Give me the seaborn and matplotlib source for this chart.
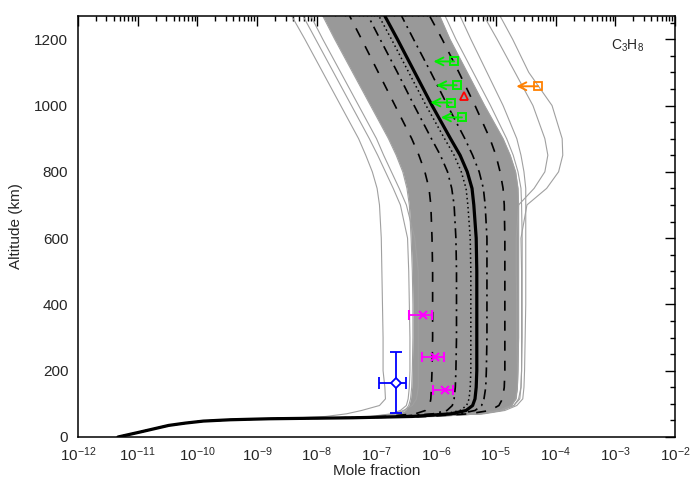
import numpy as np
import seaborn as sns
import matplotlib.pyplot as plt
from matplotlib.ticker import MultipleLocator, LogLocator, NullFormatter

# altitude grid (km) shared by the profiles
alt_km = [0, 15, 35, 42, 48, 52, 55, 58, 62, 70, 80, 95, 115, 150, 200, 300, 400,
          500, 600, 700, 750, 800, 850, 900, 1000, 1100, 1200, 1270]

# profiles as log10(mole fraction)
low = [-11.33, -10.96, -10.48, -10.20, -9.90, -9.45, -8.80]
nominal = low + [-7.40, -6.40, -5.75, -5.50, -5.39, -5.35, -5.33, -5.32, -5.32, -5.32, -5.32, -5.33,
                 -5.37, -5.40, -5.48, -5.60, -5.76, -6.07, -6.36, -6.65, -6.86]
mean_prof = low + [-7.45, -6.50, -5.85, -5.60, -5.49, -5.45, -5.43, -5.42, -5.42, -5.42, -5.42, -5.43,
                   -5.47, -5.50, -5.58, -5.70, -5.86, -6.17, -6.46, -6.75, -6.96]
sig1_lo = low + [-7.50, -6.65, -6.05, -5.82, -5.73, -5.70, -5.68, -5.67, -5.66, -5.66, -5.66, -5.67,
                 -5.70, -5.74, -5.81, -5.93, -6.08, -6.37, -6.65, -6.94, -7.14]
sig1_hi = low + [-7.35, -6.30, -5.62, -5.35, -5.24, -5.20, -5.17, -5.16, -5.15, -5.15, -5.15, -5.15,
                 -5.18, -5.21, -5.28, -5.39, -5.52, -5.81, -6.09, -6.38, -6.58]
sig2_lo = low + [-7.55, -6.85, -6.35, -6.18, -6.11, -6.09, -6.08, -6.07, -6.06, -6.06, -6.06, -6.07,
                 -6.09, -6.12, -6.19, -6.29, -6.41, -6.69, -6.97, -7.25, -7.45]
sig2_hi = low + [-7.30, -6.15, -5.45, -5.10, -4.95, -4.89, -4.86, -4.85, -4.85, -4.85, -4.85, -4.85,
                 -4.86, -4.88, -4.93, -5.00, -5.10, -5.35, -5.62, -5.90, -6.11]

# envelope of the Monte Carlo runs
band_lo = low + [-7.65, -7.00, -6.65, -6.52, -6.46, -6.43, -6.41, -6.40, -6.39, -6.39, -6.40, -6.42,
                 -6.45, -6.49, -6.56, -6.67, -6.80, -7.10, -7.40, -7.70, -7.90]
band_hi = low + [-7.20, -6.00, -5.25, -4.92, -4.74, -4.67, -4.64, -4.63, -4.62, -4.62, -4.62, -4.62,
                 -4.62, -4.63, -4.67, -4.76, -4.88, -5.19, -5.48, -5.77, -5.94]

# a few individual runs outside the dense band
run_l1 = [-11.33, -10.96, -10.48, -10.20, -9.90, -9.45, -8.85,
          -8.30, -7.85, -7.50, -7.25, -6.95, -6.85, -6.86, -6.89, -6.89, -6.90, -6.91, -6.92,
          -6.95, -6.99, -7.07, -7.18, -7.30, -7.60, -7.90, -8.20, -8.42]
run_l2 = low + [-7.80, -7.10, -6.75, -6.60, -6.50, -6.47, -6.45, -6.44, -6.44, -6.45, -6.46, -6.48,
                -6.60, -6.72, -6.85, -6.98, -7.12, -7.42, -7.72, -8.02, -8.23]
run_l3 = low + [-7.75, -7.05, -6.70, -6.55, -6.40, -6.33, -6.30, -6.30, -6.30, -6.30, -6.30, -6.36,
                -6.50, -6.62, -6.75, -6.88, -7.00, -7.30, -7.60, -7.90, -8.10]
run_r1 = low + [-7.50, -6.30, -5.30, -4.92, -4.70, -4.62, -4.58, -4.57, -4.56, -4.56, -4.56, -4.56,
                -4.57, -4.58, -4.63, -4.71, -4.82, -5.09, -5.38, -5.67, -5.85]
run_r2 = low + [-7.50, -6.20, -5.20, -4.85, -4.65, -4.55, -4.53, -4.52, -4.51, -4.50, -4.50, -4.50,
                -4.50, -4.50, -4.53, -4.58, -4.65, -4.88, -5.15, -5.42, -5.60]
run_a = low + [-7.50, -6.30, -5.30, -4.95, -4.75, -4.66, -4.64, -4.64, -4.65, -4.65, -4.66, -4.66,
               -4.62, -4.36, -4.18, -4.13, -4.18, -4.38, -4.68, -4.98, -5.20]
run_b = low + [-7.50, -6.30, -5.25, -4.90, -4.70, -4.60, -4.58, -4.57, -4.57, -4.57, -4.57, -4.58,
               -4.48, -4.15, -3.95, -3.88, -3.89, -4.06, -4.45, -4.72, -4.93]

# observations
mag_alt = [367, 242, 142]
mag_val = [6.0e-7, 9.5e-7, 1.4e-6]
mag_err = [2.5e-7, 3.8e-7, 5.0e-7]
blue_alt, blue_val, blue_xerr, blue_yerr = 164, 2.1e-7, 1.0e-7, 92
green_alt = [1133, 1061, 1009, 964]
green_val = [2.0e-6, 2.2e-6, 1.8e-6, 2.7e-6]
green_tip = [9.0e-7, 1.0e-6, 8.0e-7, 1.2e-6]
red_alt, red_val = 1030, 2.9e-6
orange_alt, orange_val, orange_tip = 1058, 5.1e-5, 2.2e-5

sns.set_theme(style="white")
plt.rcParams['font.family'] = ['Liberation Sans', 'DejaVu Sans']
plt.rcParams['mathtext.fontset'] = 'custom'
plt.rcParams['mathtext.rm'] = 'Liberation Sans'
plt.rcParams['mathtext.it'] = 'Liberation Sans'

fig = plt.figure(figsize=(6.92, 4.79), dpi=100)
ax = fig.add_axes([78 / 692, 1 - 437 / 479, 597 / 692, 421 / 479])
ax.set_xscale('log')

grey = '#999999'
ax.fill_betweenx(alt_km, 10.0 ** np.array(band_lo), 10.0 ** np.array(band_hi),
                 color=grey, lw=0)


def prof(vals, **kw):
    sns.lineplot(x=10.0 ** np.array(vals), y=alt_km, sort=False, estimator=None,
                 ax=ax, **kw)


for run in [band_lo, band_hi, run_l1, run_l2, run_l3, run_r1, run_r2, run_a, run_b]:
    prof(run, color='#a0a0a0', lw=0.8)

prof(sig2_lo, color='black', lw=1.2, linestyle=(0, (6, 6)))
prof(sig2_hi, color='black', lw=1.2, linestyle=(0, (6, 6)))
prof(sig1_lo, color='black', lw=1.2, linestyle=(0, (6, 3, 1.2, 3)))
prof(sig1_hi, color='black', lw=1.2, linestyle=(0, (6, 3, 1.2, 3)))
prof(mean_prof, color='black', lw=1.1, linestyle=(0, (1, 2)))
prof(nominal, color='black', lw=2.3)

# observations
ax.errorbar(mag_val, mag_alt, xerr=mag_err, fmt='x', color='#ff00ff',
            ms=6, mew=1.5, elinewidth=1.3, capsize=3.5, capthick=1.3)
ax.errorbar([blue_val], [blue_alt], xerr=[blue_xerr], yerr=[blue_yerr], fmt='D',
            color='#0000ff', mfc='white', ms=5, mew=1.3, elinewidth=1.3,
            capsize=4, capthick=1.3)
for a, v, t in zip(green_alt, green_val, green_tip):
    ax.annotate('', xy=(t, a), xytext=(v, a),
                arrowprops=dict(arrowstyle='->', color='#00ee00', lw=1.4,
                                mutation_scale=14, shrinkA=0, shrinkB=0))
ax.plot(green_val, green_alt, 's', color='#00ee00', mfc='none', ms=6, mew=1.4)
ax.plot([red_val], [red_alt], '^', color='#ff0000', mfc='none', ms=6, mew=1.3)
ax.annotate('', xy=(orange_tip, orange_alt), xytext=(orange_val, orange_alt),
            arrowprops=dict(arrowstyle='->', color='#ff8000', lw=1.4,
                            mutation_scale=14, shrinkA=0, shrinkB=0))
ax.plot([orange_val], [orange_alt], 's', color='#ff8000', mfc='none', ms=6, mew=1.3)

ax.set_xlim(1e-12, 1e-2)
ax.set_ylim(0, 1270)
ax.xaxis.set_major_locator(LogLocator(base=10, numticks=20))
ax.xaxis.set_minor_locator(LogLocator(base=10, subs=np.arange(2, 10), numticks=20))
ax.xaxis.set_minor_formatter(NullFormatter())
ax.yaxis.set_major_locator(MultipleLocator(200))
ax.yaxis.set_minor_locator(MultipleLocator(50))
ax.tick_params(which='both', direction='in', top=True, right=True, color='black',
               labelsize=11, width=1)
ax.tick_params(which='major', length=7, pad=7)
ax.tick_params(axis='x', which='major', pad=6)
ax.tick_params(which='minor', length=3.5)
for s in ax.spines.values():
    s.set_color('black')
    s.set_linewidth(1.1)

ax.set_xlabel('Mole fraction', fontsize=11, va='bottom')
ax.xaxis.set_label_coords(0.5, -0.097)
ax.set_ylabel('Altitude (km)', fontsize=11, labelpad=8)
ax.text(0.92, 0.93, 'C$_3$H$_8$', transform=ax.transAxes, fontsize=10,
        ha='center', va='center')

fig.savefig('out.png', dpi=100)
